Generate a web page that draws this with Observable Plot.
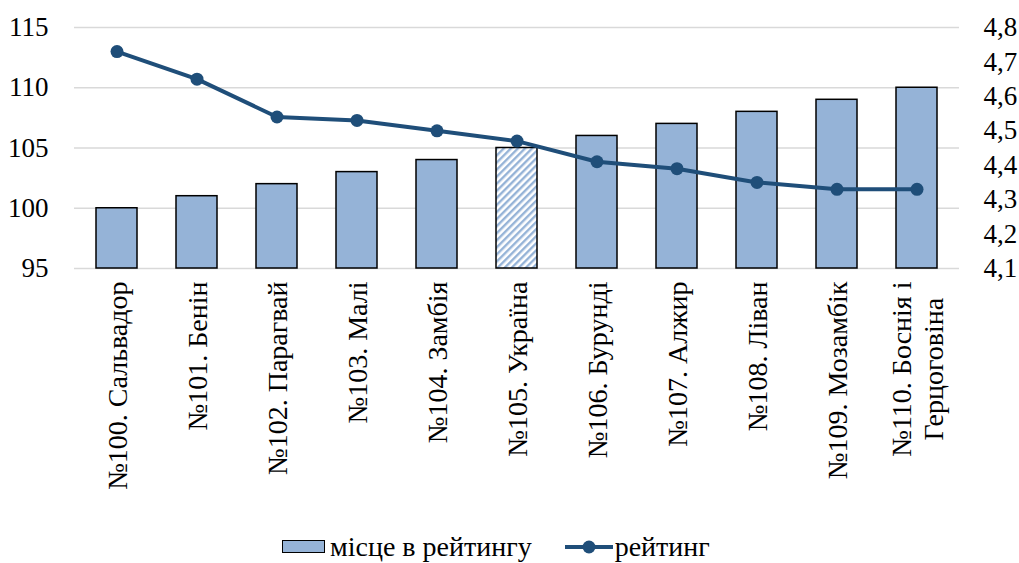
<!DOCTYPE html>
<html><head><meta charset="utf-8">
<script src="https://cdn.jsdelivr.net/npm/d3@7"></script>
<script src="https://cdn.jsdelivr.net/npm/@observablehq/plot@0.6"></script>
<style>
body{margin:0;background:#fff;font-family:'Liberation Serif',serif;}
#legend{display:flex;align-items:center;height:33px;padding-left:282px;font-size:28px;color:#000;font-family:'Liberation Serif',serif;}
#legend .sw{display:inline-block;width:41px;height:11px;background:#95b3d7;border:1.5px solid #000;margin-right:5px;}
#legend .ln{margin-left:33px;margin-right:2px;}
</style></head><body>
<div id="chart"></div>
<div id="legend"><span class="sw"></span><span>місце в рейтингу</span><svg class="ln" width="48" height="16"><line x1="0" y1="8" x2="48" y2="8" stroke="#1f4e79" stroke-width="4"/><circle cx="24" cy="8" r="6.5" fill="#1f4e79"/></svg><span>рейтинг</span></div>
<script>
const categories = ["№100. Сальвадор","№101. Бенін","№102. Парагвай","№103. Малі","№104. Замбія","№105. Україна","№106. Бурунді","№107. Алжир","№108. Ліван","№109. Мозамбік","№110. Боснія і\nГерцоговіна"];
const places = [100,101,102,103,104,105,106,107,108,109,110];
const ratings = [4.73,4.65,4.54,4.53,4.50,4.47,4.41,4.39,4.35,4.33,4.33];
const highlight = "№105. Україна";
const leftTicks = [95,100,105,110,115];
const rightTicks = [4.1,4.2,4.3,4.4,4.5,4.6,4.7,4.8];

const leftDomain = [95,115];
const rightDomain = [4.1,4.8];
const toLeft = v => leftDomain[0] + (v - rightDomain[0]) * (leftDomain[1]-leftDomain[0]) / (rightDomain[1]-rightDomain[0]);
const fromLeft = y => rightDomain[0] + (y - leftDomain[0]) * (rightDomain[1]-rightDomain[0]) / (leftDomain[1]-leftDomain[0]);

const data = categories.map((c,i)=>({cat:c, place:places[i], rating:ratings[i], ry:toLeft(ratings[i])}));

const chart = Plot.plot({
  width:1019, height:530,
  marginLeft:74, marginRight:60, marginTop:27, marginBottom:262,
  style:{fontFamily:"'Liberation Serif', serif", fontSize:"27px", color:"#000", background:"#fff"},
  x:{domain:categories, paddingInner:0.49, paddingOuter:0.245, align:0.5, label:null},
  y:{domain:leftDomain, label:null},
  marks:[
    Plot.gridY(leftTicks,{stroke:"#d9d9d9", strokeOpacity:1, strokeWidth:1.5}),
    Plot.barY(data.filter(d=>d.cat!==highlight),{x:"cat", y1:leftDomain[0], y2:"place", fill:"#95b3d7", stroke:"#000", strokeWidth:1.5}),
    Plot.barY(data.filter(d=>d.cat===highlight),{x:"cat", y1:leftDomain[0], y2:"place", fill:"url(#hatch)", stroke:"#000", strokeWidth:1.5}),
    Plot.line(data,{x:"cat", y:"ry", stroke:"#1f4e79", strokeWidth:4}),
    Plot.dot(data,{x:"cat", y:"ry", r:6.5, fill:"#1f4e79"}),
    Plot.axisY(leftTicks,{anchor:"left", tickSize:0, tickPadding:26, label:null}),
    Plot.axisY(rightTicks.map(toLeft),{anchor:"right", tickSize:0, tickPadding:24, label:null,
      tickFormat:d=>fromLeft(d).toFixed(1).replace(".",",")}),
    Plot.axisX({tickSize:0, tickRotate:-90, tickPadding:13, lineHeight:1.15, fontSize:28, label:null})
  ]
});
document.getElementById("chart").appendChild(chart);

// hatch pattern
const ns = "http://www.w3.org/2000/svg";
const defs = document.createElementNS(ns,"defs");
defs.innerHTML = '<pattern id="hatch" patternUnits="userSpaceOnUse" width="5" height="5" patternTransform="rotate(45)"><rect width="5" height="5" fill="#fff"/><rect width="2.4" height="5" fill="#95b3d7"/></pattern>';
chart.insertBefore(defs, chart.firstChild);

// center multi-line tick labels relative to each other
chart.querySelectorAll("text").forEach(t=>{
  const sp = t.querySelectorAll("tspan");
  if (sp.length > 1) {
    let m = 0;
    sp.forEach(s=>{ m = Math.max(m, s.getComputedTextLength()); });
    t.setAttribute("text-anchor","middle");
    sp.forEach(s=>s.setAttribute("x", -m/2));
  }
});
</script>
</body></html>
